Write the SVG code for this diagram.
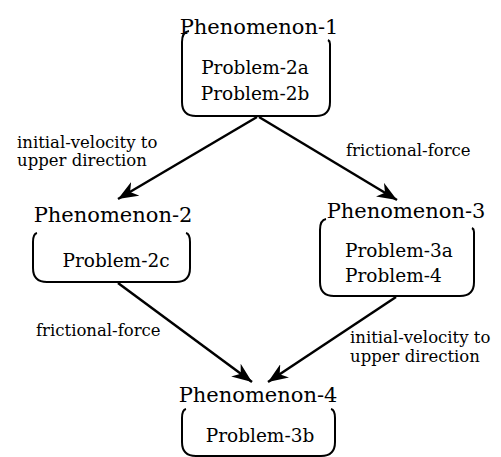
<svg xmlns="http://www.w3.org/2000/svg" width="501" height="457" viewBox="0 0 501 457">
<style>
  .box { fill: none; stroke: #000; stroke-width: 2; }
  .title { font-family: "DejaVu Serif", "Liberation Serif", serif; font-size: 21px; fill: #000; text-anchor: middle; }
  .prob { font-family: "DejaVu Serif", "Liberation Serif", serif; font-size: 18.5px; fill: #000; }
  .lbl { font-family: "DejaVu Serif", "Liberation Serif", serif; font-size: 16.5px; fill: #000; }
  .edge { stroke: #000; stroke-width: 2.5; fill: none; marker-end: url(#arr); }
</style>
<defs>
  <marker id="arr" markerUnits="userSpaceOnUse" markerWidth="22" markerHeight="16" refX="20" refY="8" orient="auto">
    <path d="M0,0 L20,8 L0,16 L6,8 Z" fill="#000"/>
  </marker>
</defs>
<rect width="501" height="457" fill="#fff"/>
<g id="connectors">
  <line class="edge" x1="257" y1="117" x2="118" y2="199"/>
  <line class="edge" x1="259" y1="117" x2="397" y2="200"/>
  <line class="edge" x1="118" y1="283" x2="252" y2="382"/>
  <line class="edge" x1="396" y1="297" x2="268" y2="382"/>
  <text class="lbl" x="17" y="148">initial-velocity to</text>
  <text class="lbl" x="17" y="166">upper direction</text>
  <text class="lbl" x="346" y="156">frictional-force</text>
  <text class="lbl" x="36" y="336">frictional-force</text>
  <text class="lbl" x="350" y="343">initial-velocity to</text>
  <text class="lbl" x="350" y="362">upper direction</text>
</g>
<g id="phenomenon-1">
  <path class="box" d="M189,31 Q182,32 182,42 L182,102 Q182,116 196,116 L316,116 Q330,116 330,102 L330,44 Q330,41 328,40"/>
  <text class="title" x="259" y="34">Phenomenon-1</text>
  <text class="prob" x="255" y="74" text-anchor="middle">Problem-2a</text>
  <text class="prob" x="255" y="100" text-anchor="middle">Problem-2b</text>
</g>
<g id="phenomenon-2">
  <path class="box" d="M37,233 Q33,234 33,242 L33,268 Q33,282 47,282 L176,282 Q190,282 190,268 L190,242 Q190,234 186,233"/>
  <text class="title" x="113" y="222">Phenomenon-2</text>
  <text class="prob" x="116" y="267" text-anchor="middle">Problem-2c</text>
</g>
<g id="phenomenon-3">
  <path class="box" d="M326,219 Q320,220 320,230 L320,282 Q320,296 334,296 L460,296 Q474,296 474,282 L474,232 Q474,229 472,228"/>
  <text class="title" x="406" y="218">Phenomenon-3</text>
  <text class="prob" x="345" y="257">Problem-3a</text>
  <text class="prob" x="345" y="282">Problem-4</text>
</g>
<g id="phenomenon-4">
  <path class="box" d="M186,409 Q182,410 182,418 L182,442 Q182,456 196,456 L321,456 Q335,456 335,442 L335,418 Q335,410 331,409"/>
  <text class="title" x="258" y="402">Phenomenon-4</text>
  <text class="prob" x="260" y="442" text-anchor="middle">Problem-3b</text>
</g>
</svg>
